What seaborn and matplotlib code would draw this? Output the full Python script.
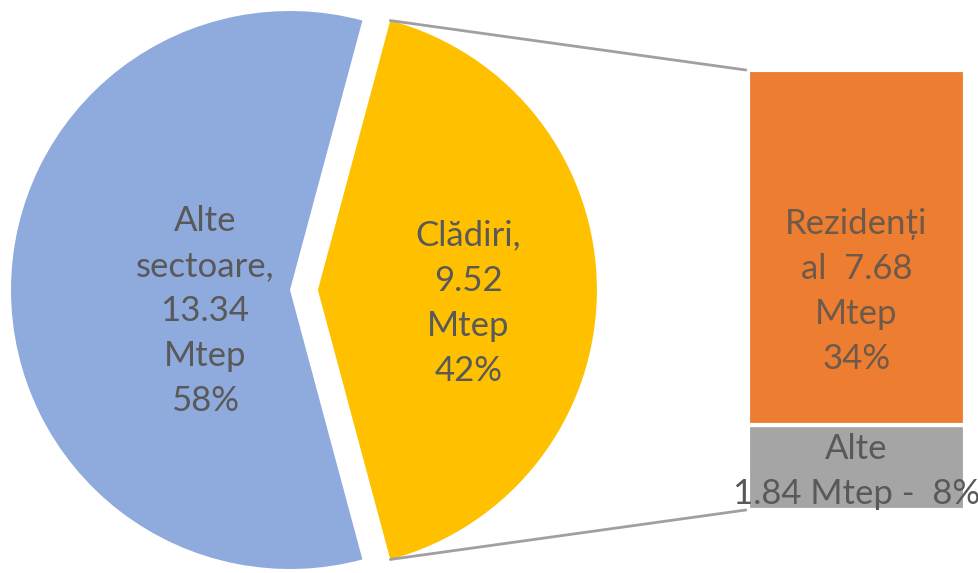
import numpy as np
import matplotlib
matplotlib.use("Agg")
import matplotlib.pyplot as plt
from matplotlib.patches import ConnectionPatch
import seaborn as sns

sns.set_theme(style="white")
plt.rcParams['font.family'] = ['Lato', 'DejaVu Sans']

# ---- data ----
pie_labels = ["Alte\nsectoare,\n13.34\nMtep\n58%", "Clădiri,\n9.52\nMtep\n42%"]
pie_values = [13.34, 9.52]
pie_colors = ["#8FAADC", "#FFC000"]

bar_labels = ["Alte\n1.84 Mtep -  8%", "Rezidenți\nal  7.68\nMtep\n34%"]
bar_values = [1.84, 7.68]
bar_colors = ["#A5A5A5", "#ED7D31"]

W, H = 979, 573
fig = plt.figure(figsize=(W / 100, H / 100), dpi=100)

# pie axes spanning the whole figure; unit radius = R px, centre at (CX, CY) px
R, CX, CY = 279.0, 290.0, 290.0
ax = fig.add_axes([0, 0, 1, 1])

frac_blue = pie_values[0] / sum(pie_values)
start = 180 - frac_blue * 360 / 2
explode = [0, 0.1]
wedges, _ = ax.pie(pie_values, colors=pie_colors, startangle=start,
                   explode=explode, radius=1.0, frame=True,
                   wedgeprops=dict(linewidth=0))
ax.set_xlim(-CX / R, (W - CX) / R)
ax.set_ylim(-(H - CY) / R, CY / R)
ax.set_aspect('auto')
ax.axis('off')

FS = 25
LS = 1.5
text_col = "#595959"
label_r = [0.305, 0.54]
label_dy = [-0.075, -0.047]
for w, lab, r, dy, ex in zip(wedges, pie_labels, label_r, label_dy, explode):
    mid = np.deg2rad((w.theta1 + w.theta2) / 2)
    x = (ex + r) * np.cos(mid)
    y = (ex + r) * np.sin(mid) + dy
    ax.text(x, y, lab, ha='center', va='center', fontsize=FS,
            color=text_col, linespacing=LS)

# bar axes
bx0, bx1, by0, by1 = 748, 965, 70, 510
axb = fig.add_axes([bx0 / W, 1 - by1 / H, (bx1 - bx0) / W, (by1 - by0) / H])
bottom = 0
for v, c in zip(bar_values, bar_colors):
    axb.bar(0, v, bottom=bottom, width=1.0, color=c, edgecolor='white',
            linewidth=3)
    bottom += v
axb.set_xlim(-0.5, 0.5)
axb.set_ylim(0, sum(bar_values))
axb.axis('off')

axb.text(0, bar_values[0] / 2 - 0.08, bar_labels[0], ha='center', va='center',
         fontsize=FS, color=text_col, linespacing=LS, clip_on=False)
axb.text(0, bar_values[0] + bar_values[1] / 2 - 0.96, bar_labels[1],
         ha='center', va='center', fontsize=FS, color="#6E5A4A",
         linespacing=LS)

# connector lines
yw = wedges[1]
for ang, ycorner in [(yw.theta2, 1.0), (yw.theta1, 0.0)]:
    a = np.deg2rad(ang)
    p = (explode[1] + np.cos(a), np.sin(a))
    con = ConnectionPatch(xyA=p, coordsA=ax.transData,
                          xyB=(-0.01, ycorner), coordsB=axb.transAxes,
                          color="#A0A0A0", linewidth=2)
    fig.add_artist(con)

fig.savefig("out.png", dpi=100, facecolor='white')
